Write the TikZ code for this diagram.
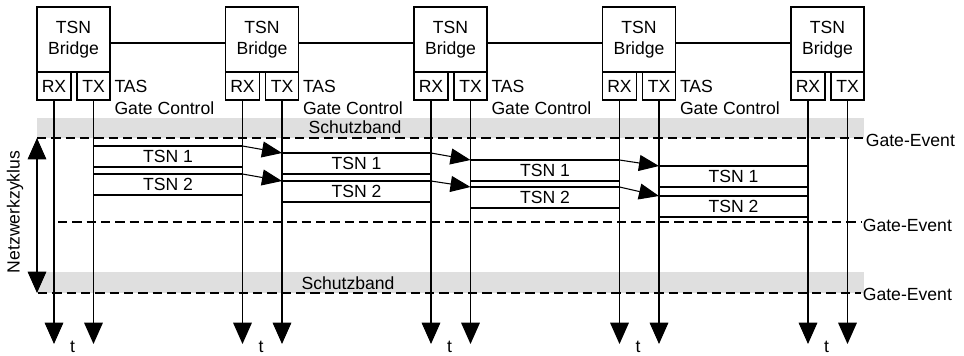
\documentclass[tikz,border=0pt]{standalone}
\usepackage{fontspec}
\setmainfont{Liberation Sans}
\usetikzlibrary{arrows.meta}

\begin{document}
\begin{tikzpicture}[x=0.75pt,y=-0.75pt,line width=0.8pt,
  font=\fontsize{13.2}{15.75}\selectfont,
  bridgebox/.style={draw, outer sep=0pt, inner sep=0pt, minimum width=54.75pt, minimum height=48.75pt, align=center},
  portbox/.style={draw, outer sep=0pt, inner sep=0pt, minimum height=21pt},
  framebox/.style={draw, outer sep=0pt, inner sep=0pt, minimum width=111.75pt, minimum height=15.75pt, anchor=north west},
  timeline/.style={-{Triangle[length=16pt,width=14pt]}},
  flowarrow/.style={-{Triangle[length=15pt,width=12pt]}},
  gateline/.style={dash pattern=on 7pt off 3.75pt},
  guardband/.style={fill=gray!25}]
\useasboundingbox (0,0) rectangle (964,355);

% Schutzbaender
\fill[guardband] (37,118) rectangle (864,138);
\fill[guardband] (37,272) rectangle (864,293);
\node (sb1) at (355,127) {Schutzband};
\node (sb2) at (348,283) {Schutzband};

% Gate-Events
\node[anchor=west, inner sep=1pt] (ge1) at (864,140) {Gate-Event};
\node[anchor=west, inner sep=1pt] (ge2) at (861,225) {Gate-Event};
\node[anchor=west, inner sep=1pt] (ge3) at (861,294) {Gate-Event};
\coordinate (gs1) at (37,138);
\coordinate (gs2) at (58,222);
\coordinate (gs3) at (38,293);
\foreach \i in {1,2,3} {\draw[gateline] (gs\i) -- (gs\i -| ge\i.west);}

% Netzwerkzyklus
\coordinate (nztop) at (37,138);
\coordinate (nzbot) at (37,293);
\draw[{Triangle[length=16pt,width=14pt]}-{Triangle[length=16pt,width=14pt]}] (nztop) -- (nzbot);
\node[rotate=90] (nzlabel) at (15,212) {Netzwerkzyklus};

% Bridges mit RX/TX und Zeitachsen
\foreach \i in {1,...,5} {
  \pgfmathsetmacro{\xo}{(\i-1)*188.5}
  \node[bridgebox] (br\i) at (73.5+\xo,39.5) {TSN\\Bridge};
  \node[portbox, minimum width=25.5pt] (rx\i) at (54+\xo,86) {RX};
  \node[portbox, minimum width=24.75pt] (tx\i) at (93.5+\xo,86) {TX};
  \coordinate (rxend\i) at (54+\xo,344);
  \coordinate (txend\i) at (93.5+\xo,344);
  \draw[timeline] (rx\i) -- (rxend\i);
  \draw[timeline] (tx\i) -- (txend\i);
  \node (t\i) at (72.5+\xo,347) {t};
}
\foreach \i/\j in {1/2,2/3,3/4,4/5} {\draw ([yshift=-2.6pt]br\i.east) -- ([yshift=-2.6pt]br\j.west);}

% TAS Gate Control
\foreach \i in {1,...,4} {
  \pgfmathsetmacro{\xo}{(\i-1)*188.5}
  \node[anchor=west, align=left, inner sep=0pt, font=\fontsize{13.2}{16.5}\selectfont] (tas\i) at (114+\xo,97) {TAS\\Gate Control};
}

% TSN-Frames
\foreach \i/\ya/\yb in {1/146/174,2/153/181,3/160/187,4/166/196} {
  \pgfmathsetmacro{\xo}{(\i-1)*188.5}
  \node[framebox] (fa\i) at (93.5+\xo,\ya) {TSN 1};
  \node[framebox] (fb\i) at (93.5+\xo,\yb) {TSN 2};
}
\foreach \i/\j in {1/2,2/3,3/4} {
  \draw[flowarrow] (fa\i.north east) -- (fa\j.north west);
  \draw[flowarrow] (fb\i.north east) -- (fb\j.north west);
}
\end{tikzpicture}
\end{document}
